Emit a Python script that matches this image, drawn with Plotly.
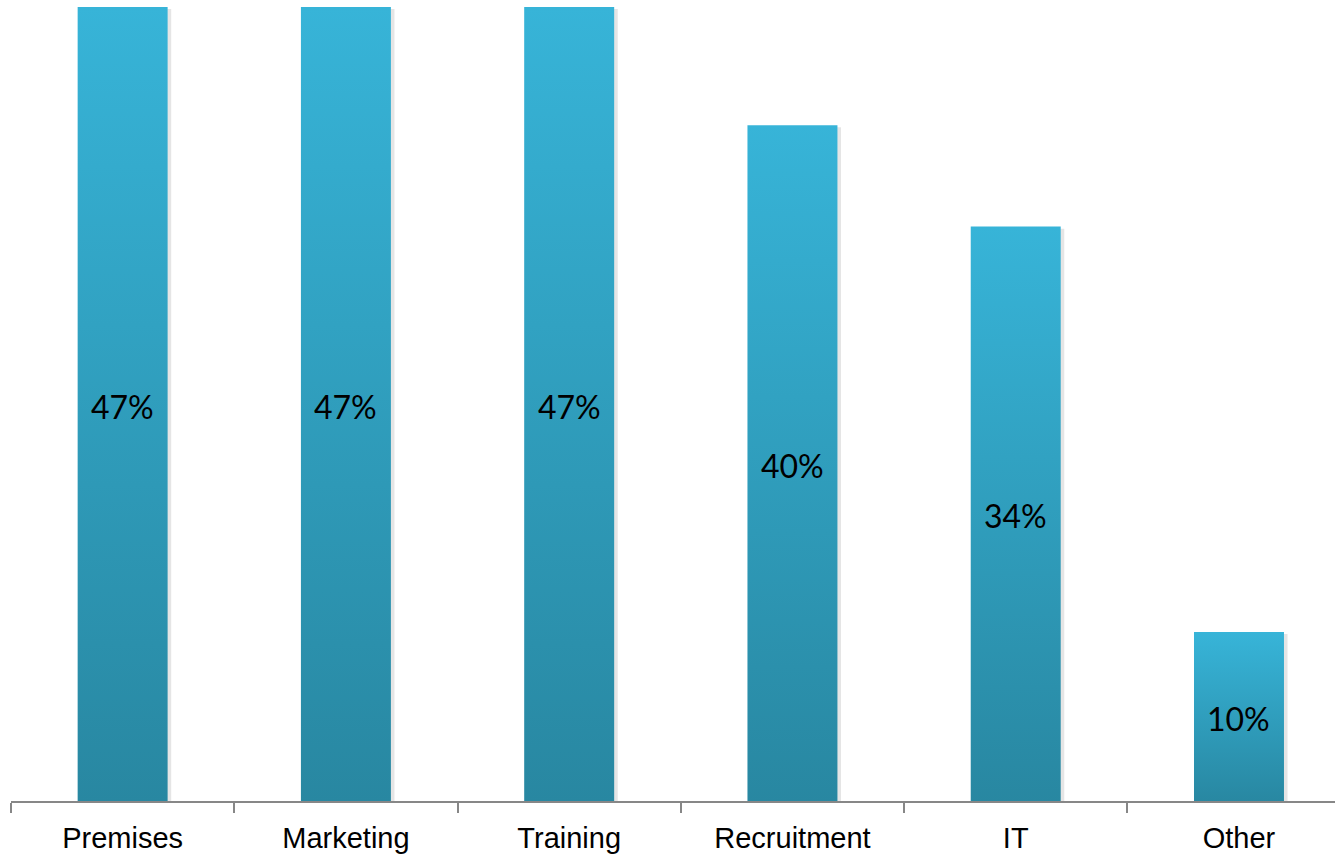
import plotly.graph_objects as go

# Share of respondents planning spend in each area (%)
categories = ["Premises", "Marketing", "Training", "Recruitment", "IT", "Other"]
shares = [47, 47, 47, 40, 34, 10]

BAR_HALF = 0.2015          # half bar width, in category units
TOP_COLOR = "#37b4d8"
BOTTOM_COLOR = "#2887a1"
AXIS_COLOR = "#878787"

fig = go.Figure()

for i, v in enumerate(shares):
    left, right = i - BAR_HALF, i + BAR_HALF
    # soft drop shadow on the right edge
    fig.add_trace(go.Scatter(
        x=[left + 0.012, right + 0.016, right + 0.016, left + 0.012, left + 0.012],
        y=[0, 0, v - 0.12, v - 0.12, 0],
        mode="lines", line=dict(width=0), fill="toself",
        fillcolor="rgba(0,0,0,0.10)", hoverinfo="skip", showlegend=False,
    ))
    # bar body with vertical gradient
    fig.add_trace(go.Scatter(
        x=[left, right, right, left, left],
        y=[0, 0, v, v, 0],
        mode="lines", line=dict(width=0), fill="toself",
        fillgradient=dict(type="vertical", start=0, stop=v,
                          colorscale=[[0, BOTTOM_COLOR], [1, TOP_COLOR]]),
        hoverinfo="skip", showlegend=False,
    ))

# value labels centred inside each bar
for i, v in enumerate(shares):
    fig.add_annotation(
        x=i, y=v / 2, xref="x", yref="y",
        text=f"{v}%", showarrow=False,
        xanchor="center", yanchor="middle", yshift=-2,
        font=dict(family="Lato", size=32, color="#000000"),
    )

boundaries = [i - 0.5 for i in range(len(categories) + 1)]

fig.update_layout(
    width=1335, height=854,
    margin=dict(l=11, r=0, t=7, b=51),
    paper_bgcolor="white", plot_bgcolor="white",
    showlegend=False,
    xaxis=dict(
        range=[-0.5, 5.43],
        tickmode="array",
        tickvals=list(range(len(categories))),
        ticktext=categories,
        ticks="",
        showgrid=False, zeroline=False,
        showline=True, linecolor=AXIS_COLOR, linewidth=2,
        tickfont=dict(family="Liberation Sans, Arial", size=29, color="#000000"),
        ticklabelstandoff=10,
        minor=dict(tickmode="array", tickvals=boundaries, ticks="outside",
                   ticklen=10, tickwidth=2, tickcolor=AXIS_COLOR, showgrid=False),
        fixedrange=True,
    ),
    yaxis=dict(range=[0, 47], visible=False, fixedrange=True),
)

fig.write_html("out.html")
